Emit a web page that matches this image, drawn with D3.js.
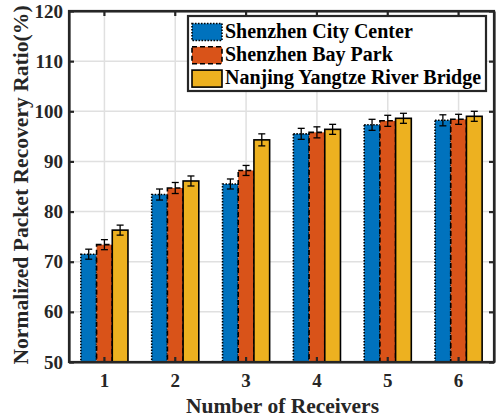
<!DOCTYPE html>
<html><head><meta charset="utf-8">
<script src="https://cdn.jsdelivr.net/npm/d3@7"></script>
<style>body{margin:0;background:#fff}svg{display:block}</style>
</head><body>
<script>
const categories = ["1","2","3","4","5","6"];
const seriesNames = ["Shenzhen City Center","Shenzhen Bay Park","Nanjing Yangtze River Bridge"];
const cityCenter = [71.5, 83.4, 85.5, 95.5, 97.3, 98.2];
const bayPark = [73.4, 84.7, 88.2, 95.8, 98.1, 98.4];
const yangtze = [76.3, 86.1, 94.3, 96.4, 98.6, 99.0];
const errCity = [1.0, 1.1, 1.0, 1.1, 1.1, 1.1];
const errBay = [1.0, 1.1, 1.0, 1.1, 1.1, 1.0];
const errYangtze = [1.0, 1.0, 1.2, 1.0, 1.0, 1.0];
const yTicks = [50,60,70,80,90,100,110,120];

const W = 502, H = 419;
const m = {left:69, right:8, top:11, bottom:57};
const svg = d3.select("body").append("svg").attr("width",W).attr("height",H);
const x = d3.scaleBand().domain(categories).range([m.left, W-m.right]).padding(0);
const y = d3.scaleLinear().domain([50,120]).range([H-m.bottom, m.top]);
const groupW = x.bandwidth()*0.665;
const sub = d3.scaleBand().domain(seriesNames).range([(x.bandwidth()-groupW)/2, (x.bandwidth()+groupW)/2]);

const colors = ["#0072BD","#D95319","#EDB120"];
const dashes = ["1.5,1.5","5,3",null];
const values = [cityCenter, bayPark, yangtze];
const errs = [errCity, errBay, errYangtze];
const font = "'Liberation Serif','Times New Roman',serif";
const axisColor = "#262626";

// grid
const g = svg.append("g");
g.selectAll(".gy").data(yTicks.slice(1,-1)).enter().append("line")
 .attr("x1",m.left).attr("x2",W-m.right).attr("y1",d=>y(d)).attr("y2",d=>y(d))
 .attr("stroke","#e0e0e0").attr("stroke-width",1.5);
g.selectAll(".gx").data(categories).enter().append("line")
 .attr("x1",d=>x(d)+x.bandwidth()/2).attr("x2",d=>x(d)+x.bandwidth()/2).attr("y1",m.top).attr("y2",H-m.bottom)
 .attr("stroke","#e0e0e0").attr("stroke-width",1.5);

// bars
seriesNames.forEach((s,i)=>{
  const bg = svg.append("g");
  bg.selectAll("rect").data(categories).enter().append("rect")
    .attr("x",d=>x(d)+sub(s)).attr("width",sub.bandwidth())
    .attr("y",(d,j)=>y(values[i][j])).attr("height",(d,j)=>y(50)-y(values[i][j]))
    .attr("fill",colors[i]).attr("stroke","#000").attr("stroke-width",1.6)
    .attr("stroke-dasharray",dashes[i]);
});
// error bars
seriesNames.forEach((s,i)=>{
  const eg = svg.append("g").attr("stroke","#000").attr("stroke-width",1.3);
  categories.forEach((c,j)=>{
    const cx = x(c)+sub(s)+sub.bandwidth()/2;
    const v = values[i][j], e = errs[i][j];
    eg.append("line").attr("x1",cx).attr("x2",cx).attr("y1",y(v-e)).attr("y2",y(v+e));
    eg.append("line").attr("x1",cx-3.5).attr("x2",cx+3.5).attr("y1",y(v-e)).attr("y2",y(v-e));
    eg.append("line").attr("x1",cx-3.5).attr("x2",cx+3.5).attr("y1",y(v+e)).attr("y2",y(v+e));
  });
});

// axes
const ax = svg.append("g").attr("transform",`translate(0,${H-m.bottom})`)
  .call(d3.axisBottom(x).tickSizeInner(-5).tickSizeOuter(0).tickPadding(12));
const ay = svg.append("g").attr("transform",`translate(${m.left},0)`)
  .call(d3.axisLeft(y).tickValues(yTicks).tickSizeInner(-5).tickSizeOuter(0).tickPadding(6));
const axt = svg.append("g").attr("transform",`translate(0,${m.top})`)
  .call(d3.axisTop(x).tickSizeInner(-5).tickSizeOuter(0).tickFormat(""));
const ayr = svg.append("g").attr("transform",`translate(${W-m.right},0)`)
  .call(d3.axisRight(y).tickValues(yTicks).tickSizeInner(-5).tickSizeOuter(0).tickFormat(""));
[ax,ay,axt,ayr].forEach(a=>{
  a.selectAll("path").attr("stroke",axisColor).attr("stroke-width",2.2);
  a.selectAll("line").attr("stroke",axisColor).attr("stroke-width",2.2);
  a.selectAll("text").attr("font-family",font).attr("font-weight","bold").attr("font-size",19).attr("fill",axisColor);
});
svg.append("rect").attr("x",m.left).attr("y",m.top).attr("width",W-m.right-m.left).attr("height",H-m.bottom-m.top)
  .attr("fill","none").attr("stroke",axisColor).attr("stroke-width",2.2);

// axis labels
svg.append("text").attr("x",282.5).attr("y",413).attr("text-anchor","middle")
  .attr("font-family",font).attr("font-weight","bold").attr("font-size",21.5).attr("fill",axisColor)
  .text("Number of Receivers");
svg.append("text").attr("transform",`translate(27.5,185) rotate(-90)`).attr("text-anchor","middle")
  .attr("font-family",font).attr("font-weight","bold").attr("font-size",21.6).attr("fill",axisColor)
  .text("Normalized Packet Recovery Ratio(%)");

// legend
const lg = svg.append("g");
lg.append("rect").attr("x",188).attr("y",16).attr("width",298).attr("height",75)
  .attr("fill","#fff").attr("stroke",axisColor).attr("stroke-width",2.2);
seriesNames.forEach((s,i)=>{
  const ry = 23.5 + i*23.3;
  lg.append("rect").attr("x",192).attr("y",ry).attr("width",30).attr("height",17)
    .attr("fill",colors[i]).attr("stroke","#000").attr("stroke-width",1.6).attr("stroke-dasharray",dashes[i]);
  lg.append("text").attr("x",225).attr("y",ry+14)
    .attr("font-family",font).attr("font-weight","bold").attr("font-size",20).attr("fill","#000")
    .text(s);
});
</script>
</body></html>
